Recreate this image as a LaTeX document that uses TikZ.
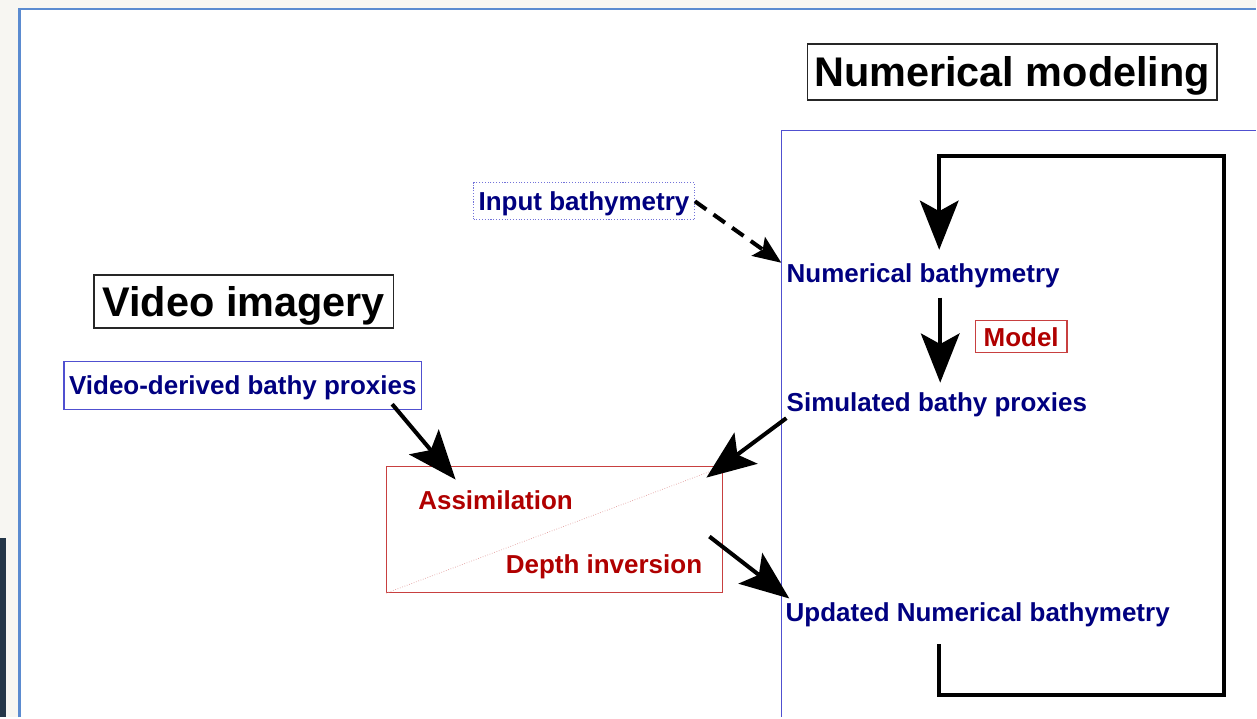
\documentclass[tikz,border=0pt]{standalone}
\usepackage{fontspec}
\setmainfont{Liberation Sans}
\usetikzlibrary{arrows.meta,positioning}

\definecolor{navytext}{HTML}{000080}
\definecolor{redtext}{HTML}{B00000}
\definecolor{redframe}{HTML}{C84040}
\definecolor{blueframe}{HTML}{5050D0}
\definecolor{pageblue}{HTML}{5B8BD0}
\definecolor{beige}{HTML}{F7F6F2}
\definecolor{darkstrip}{HTML}{243648}

\begin{document}
\begin{tikzpicture}[x=0.02cm, y=-0.02cm,
        title/.style = {draw=black!85, line width=0.9pt, font=\fontsize{23.6}{28}\selectfont\bfseries, inner sep=0pt, text height=16.9pt, text depth=0pt},
        label/.style = {text=navytext, font=\fontsize{14.8}{17}\selectfont\bfseries, inner sep=0pt, anchor=west, text height=10.6pt, text depth=0pt},
        bluebox/.style = {draw=blueframe, line width=0.6pt, text=navytext, font=\fontsize{14.8}{17}\selectfont\bfseries, inner sep=0pt, text height=10.6pt, text depth=0pt},
        redbox/.style = {draw=redframe, line width=0.7pt, inner sep=0pt},
        redlabel/.style = {text=redtext, font=\fontsize{14.8}{17}\selectfont\bfseries, inner sep=0pt, text height=10.6pt, text depth=0pt},
        bigarrow/.style = {line width=2.3pt, -{Stealth[length=28pt, width=22pt, inset=6pt]}},
        dasharrow/.style = {line width=2.3pt, dash pattern=on 8pt off 5pt, -{Stealth[length=16pt, width=13pt, inset=3pt]}}
        ]
        % screen around the slide
        \fill[beige] (0,0) rectangle (1257,718);
        \fill[white] (20,9) rectangle (1257,718);
        \draw[pageblue, line width=1.2pt] (19.5,718) -- (19.5,9) -- (1257,9);
        \fill[darkstrip] (0,538) rectangle (6,718);

        % modeling frame
        \draw[blueframe, line width=0.6pt] (1257,130.5) -- (782.5,130.5) -- (782.5,718);

        \node[title, minimum width=8.2cm, minimum height=1.12cm] (numtitle) at (1013,72) {Numerical modeling};
        \node[title, minimum width=6cm, minimum height=1.06cm] (vidtitle) at (244,301.5) {Video imagery};

        \node[label] (numbathy) at (787,273) {Numerical bathymetry};
        \node[label] (simproxy) at (787,402.5) {Simulated bathy proxies};
        \node[label] (updbathy) at (786,613) {Updated Numerical bathymetry};

        \node[bluebox, minimum width=7.16cm, minimum height=0.96cm] (vidproxy) at (243,386) {Video-derived bathy proxies};
        \node[bluebox, draw=blueframe!80, densely dotted, minimum width=4.42cm, minimum height=0.74cm] (inbathy) at (584.5,201.5) {Input bathymetry};

        \node[redbox, redlabel, minimum width=1.84cm, minimum height=0.64cm] (model) at (1022,337) {Model};
        \node[redbox, minimum width=6.72cm, minimum height=2.52cm] (inv) at (555,530) {};
        \draw[redframe!50, densely dotted, line width=0.4pt] (inv.south west) -- (713,471);
        \node[redlabel] (assim) at (496,500.5) {Assimilation};
        \node[redlabel] (depth) at (604.5,564.5) {Depth inversion};

        \coordinate (looptop) at (940,250);
        \coordinate (loopbot) at (940,645);
        \coordinate (modtip) at (941,383);
        \coordinate (assimtip) at (456,480);
        \coordinate (invtip) at (707,478);
        \coordinate (updtip) at (790,599);

        \draw[line width=2.3pt, line join=miter] (loopbot) -- (940,696) -- (1225,696) -- (1225,156) -- (940,156) -- (940,200);
        \draw[bigarrow] (940,190) -- (looptop);
        \draw[bigarrow] (941,298) -- (modtip);
        \draw[dasharrow] (inbathy.east) -- (782,263);
        \draw[bigarrow] (vidproxy.south east) ++(-30,-6) -- (assimtip);
        \draw[bigarrow] (simproxy.west) ++(0,16) -- (invtip);
        \draw[bigarrow] (710,537) -- (updtip);
    \end{tikzpicture}
\end{document}
